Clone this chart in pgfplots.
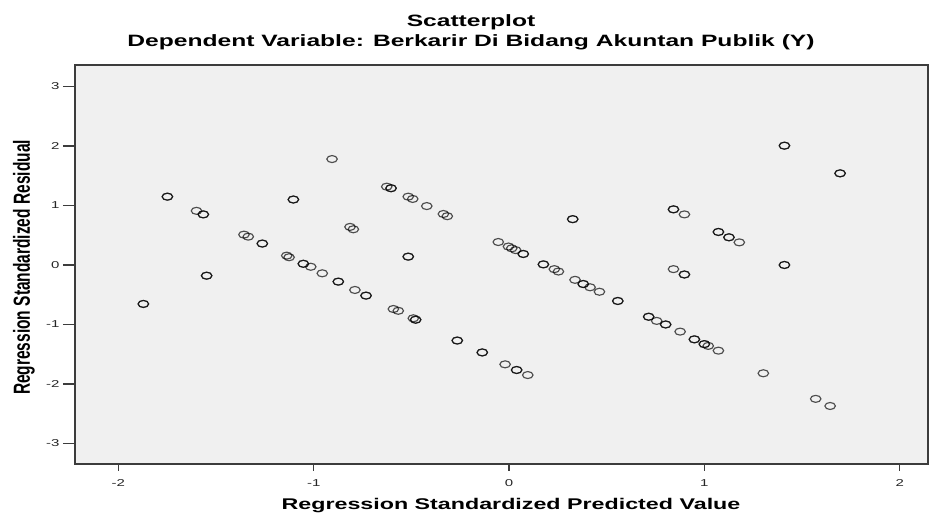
\documentclass[border=0pt]{standalone}
\usepackage{pgfplots}
\pgfplotsset{compat=1.18}
\usepackage{fontspec}
\setmainfont{Liberation Sans}
\definecolor{bg}{RGB}{240,240,240}
\definecolor{frame}{RGB}{60,60,60}
\newcommand{\sx}[1]{\scalebox{1.5}[1]{#1}}
\begin{document}
\begin{tikzpicture}
\begin{axis}[
 at={(0,0)}, anchor=south west,
 scale only axis, width=853pt, height=399pt,
 xmin=-2.222, xmax=2.145, ymin=-3.345, ymax=3.361,
 axis background/.style={fill=bg},
 axis line style={frame, line width=1.2pt},
 tick align=outside,
 xtick pos=bottom, ytick pos=left,
 major tick length=12pt,
 tick style={frame, line width=1.2pt},
 xtick style={/pgfplots/major tick length=7pt},
 xtick={-2,-1,0,1,2}, ytick={-3,-2,-1,0,1,2,3},
 xticklabel={\sx{\pgfmathprintnumber[assume math mode=true]{\tick}}},
 yticklabel={\sx{\pgfmathprintnumber[assume math mode=true]{\tick}}},
 ticklabel style={font=\fontsize{10}{12}\selectfont, text=black!85},
 clip=false,
]
\addplot[only marks, mark=o, mark size=3.5pt,
  mark options={draw=black, draw opacity=0.68, line width=1.15pt, xscale=1.5}]
 table[row sep=\\]{
 x y\\
-1.872 -0.655\\ -1.872 -0.655\\
-1.749 1.148\\ -1.749 1.148\\
-1.600 0.910\\
-1.565 0.850\\ -1.565 0.850\\
-1.548 -0.180\\ -1.548 -0.180\\
-1.357 0.510\\
-1.335 0.476\\
-1.263 0.360\\ -1.263 0.360\\
-1.138 0.157\\
-1.126 0.130\\
-1.104 1.100\\ -1.104 1.100\\
-1.053 0.020\\ -1.053 0.020\\
-1.015 -0.030\\
-0.956 -0.140\\
-0.906 1.780\\
-0.874 -0.280\\ -0.874 -0.280\\
-0.814 0.640\\
-0.797 0.600\\
-0.789 -0.420\\
-0.732 -0.515\\ -0.732 -0.515\\
-0.626 1.316\\
-0.604 1.290\\ -0.604 1.290\\
-0.592 -0.740\\
-0.567 -0.770\\
-0.516 1.148\\
-0.493 1.110\\
-0.516 0.140\\ -0.516 0.140\\
-0.490 -0.896\\
-0.478 -0.920\\ -0.478 -0.920\\
-0.421 0.990\\
-0.336 0.857\\
-0.316 0.820\\
-0.265 -1.270\\ -0.265 -1.270\\
-0.137 -1.470\\ -0.137 -1.470\\
-0.055 0.386\\
-0.020 -1.670\\
-0.003 0.310\\
0.014 0.280\\
0.034 0.250\\
0.039 -1.765\\ 0.039 -1.765\\
0.073 0.185\\ 0.073 0.185\\
0.096 -1.850\\
0.176 0.010\\ 0.176 0.010\\
0.232 -0.070\\
0.253 -0.110\\
0.326 0.770\\ 0.326 0.770\\
0.338 -0.250\\
0.380 -0.320\\ 0.380 -0.320\\
0.415 -0.375\\
0.463 -0.450\\
0.557 -0.605\\ 0.557 -0.605\\
0.715 -0.870\\ 0.715 -0.870\\
0.756 -0.940\\
0.802 -1.000\\ 0.802 -1.000\\
0.842 0.935\\ 0.842 0.935\\
0.898 0.850\\
0.842 -0.070\\
0.898 -0.160\\ 0.898 -0.160\\
0.876 -1.120\\
0.949 -1.250\\ 0.949 -1.250\\
1.000 -1.330\\ 1.000 -1.330\\
1.020 -1.360\\
1.072 -1.440\\
1.072 0.555\\ 1.072 0.555\\
1.126 0.465\\ 1.126 0.465\\
1.179 0.380\\
1.302 -1.820\\
1.410 2.005\\ 1.410 2.005\\
1.410 0.000\\ 1.410 0.000\\
1.570 -2.250\\
1.644 -2.370\\
1.695 1.540\\ 1.695 1.540\\
 };
\end{axis}
\node[anchor=base, font=\bfseries\fontsize{16.4}{18}\selectfont] at (396pt,437.3pt) {\sx{Scatterplot}};
\node[anchor=base, font=\bfseries\fontsize{16.4}{18}\selectfont] at (396pt,417.3pt) {\sx{Dependent Variable: Berkarir Di Bidang Akuntan Publik (Y)}};
\node[anchor=base, font=\bfseries\fontsize{15.5}{18}\selectfont] at (436pt,-46pt) {\sx{Regression Standardized Predicted Value}};
\node[anchor=base, rotate=90, font=\bfseries\fontsize{15.5}{18}\selectfont] at (-45pt,196.5pt) {\scalebox{1}[1.5]{Regression Standardized Residual}};
\pgfresetboundingbox
\path (-75pt,-50pt) rectangle (857pt,464pt);
\end{tikzpicture}
\end{document}
